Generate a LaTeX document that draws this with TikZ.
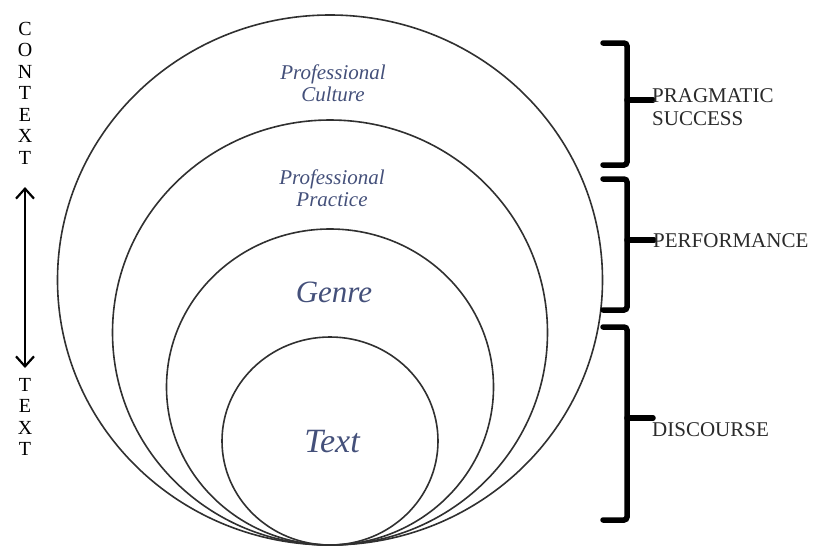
\documentclass[tikz,border=0pt]{standalone}
\usepackage{fontspec}
\setmainfont{Liberation Serif}
\usetikzlibrary{shapes.geometric,arrows.meta}
\definecolor{ringtext}{HTML}{44507A}
\definecolor{ringline}{HTML}{303030}
\definecolor{sidetext}{HTML}{2A2A2A}
\tikzset{
  ring/.style={ellipse, draw=ringline, line width=1.6pt, inner sep=0pt, outer sep=0pt},
  ringlabel/.style={font=\fontsize{21}{23}\selectfont\itshape, text=ringtext, align=center, inner sep=0pt},
  genrelabel/.style={font=\fontsize{31}{33}\selectfont\itshape, text=ringtext, inner sep=0pt},
  textlabel/.style={font=\fontsize{34}{36}\selectfont\itshape, text=ringtext, inner sep=0pt},
  brace/.style={line width=5.5pt, rounded corners=3pt, line cap=round, black},
  sidelabel/.style={font=\fontsize{21}{23}\selectfont, text=sidetext, anchor=west, align=left, inner sep=0pt},
  vletter/.style={font=\fontsize{20}{20}\selectfont, text=black, inner sep=0pt},
}
\begin{document}
\begin{tikzpicture}[x=1pt,y=-1pt]
\useasboundingbox (0,0) rectangle (815,547);
% rings
\node[ring, minimum width=545pt, minimum height=530pt] (culture) at (330,280) {};
\node[ring, minimum width=435pt, minimum height=425pt] (practice) at (330,332.5) {};
\node[ring, minimum width=327pt, minimum height=316pt] (genre) at (330,387) {};
\node[ring, minimum width=216pt, minimum height=208pt] (text) at (330,441) {};
% ring labels
\node[ringlabel] (lculture) at (333,83) {Professional\\[-1pt]Culture};
\node[ringlabel] (lpractice) at (332,188) {Professional\\[-1pt]Practice};
\node[genrelabel] (lgenre) at (334,292) {Genre};
\node[textlabel] (ltext) at (332,442) {Text};
% braces
\coordinate (b1t) at (603,43);
\coordinate (b1b) at (603,165);
\coordinate (b1m) at (653,100);
\draw[brace] (b1t) -- (627,43) -- (627,165) -- (b1b);
\draw[brace, rounded corners=0pt] (627,100) -- (b1m);
\coordinate (b2t) at (603,179);
\coordinate (b2b) at (603,310);
\coordinate (b2m) at (654,240);
\draw[brace] (b2t) -- (627,179) -- (627,310) -- (b2b);
\draw[brace, rounded corners=0pt] (627,240) -- (b2m);
\coordinate (b3t) at (603,327);
\coordinate (b3b) at (603,520);
\coordinate (b3m) at (653,418);
\draw[brace] (b3t) -- (627,327) -- (627,520) -- (b3b);
\draw[brace, rounded corners=0pt] (627,418) -- (b3m);
% side labels
\node[sidelabel] (pragmatic) at (652,107) {PRAGMATIC\\[0pt]SUCCESS};
\node[sidelabel] (performance) at (653,241) {PERFORMANCE};
\node[sidelabel] (discourse) at (652,430) {DISCOURSE};
% vertical axis
\foreach \ch/\yy/\nm in {C/28.5/c1,O/50/c2,N/71.5/c3,T/93/c4,E/114.5/c5,X/136/c6,T/157.5/c7}
  \node[vletter] (\nm) at (25,\yy) {\ch};
\foreach \ch/\yy/\nm in {T/384.5/t1,E/406/t2,X/427.5/t3,T/449/t4}
  \node[vletter] (\nm) at (25,\yy) {\ch};
\coordinate (atop) at (25,187);
\coordinate (abot) at (25,368);
\draw[line width=2pt, {Straight Barb[length=10pt,width=18pt,line width=2.2pt]}-{Straight Barb[length=10pt,width=18pt,line width=2.2pt]}] (atop) -- (abot);
\end{tikzpicture}
\end{document}
